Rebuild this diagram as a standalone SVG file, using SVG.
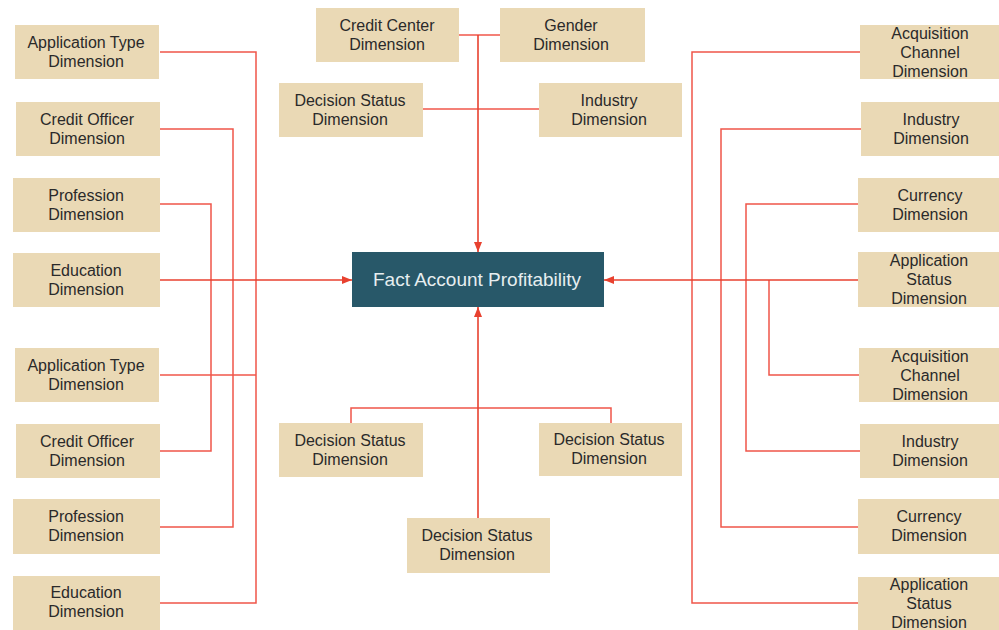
<svg xmlns="http://www.w3.org/2000/svg" width="999" height="630" viewBox="0 0 999 630">
  <defs>
    <style>
      .dim rect { fill: #ead9b5; }
      .dim text { font-family: "Liberation Sans", Arial, sans-serif; font-size: 16px; fill: #2a2a2a; text-anchor: middle; }
      .fact rect { fill: #285869; }
      .fact text { font-family: "Liberation Sans", Arial, sans-serif; font-size: 19px; fill: #e6eef0; text-anchor: middle; }
      .link { fill: none; stroke: #f0564a; stroke-width: 1.5; }
      .main { fill: none; stroke: #e8412f; stroke-width: 1.6; }
    </style>
    <marker id="arrow" viewBox="0 0 10 10" refX="10" refY="5" markerWidth="10" markerHeight="10" markerUnits="userSpaceOnUse" orient="auto">
      <path d="M0,1 L10,5 L0,9 Z" fill="#e8412f"/>
    </marker>
  </defs>
  <rect width="999" height="630" fill="#ffffff"/>

  <!-- connectors -->
  <g id="connectors">
    <!-- left side -->
    <polyline class="link" points="160,52 256,52 256,603 160,603"/>
    <polyline class="link" points="160,129 233,129 233,527 160,527"/>
    <polyline class="link" points="160,204 211,204 211,451 160,451"/>
    <polyline class="link" points="160,375 256,375"/>
    <line class="main" x1="160" y1="280" x2="352" y2="280" marker-end="url(#arrow)"/>
    <!-- top -->
    <line class="link" x1="459" y1="35" x2="500" y2="35"/>
    <line class="link" x1="423" y1="109" x2="539" y2="109"/>
    <line class="main" x1="478" y1="35" x2="478" y2="252" marker-end="url(#arrow)"/>
    <!-- bottom -->
    <polyline class="link" points="351,423 351,408 611,408 611,423"/>
    <line class="main" x1="478" y1="518" x2="478" y2="307" marker-end="url(#arrow)"/>
    <!-- right side -->
    <polyline class="link" points="860,52 692,52 692,603 858,603"/>
    <polyline class="link" points="861,129 721,129 721,527 858,527"/>
    <polyline class="link" points="858,204 746,204 746,451 860,451"/>
    <polyline class="link" points="859,375 769,375 769,280"/>
    <line class="main" x1="858" y1="280" x2="604" y2="280" marker-end="url(#arrow)"/>
  </g>

  <!-- central fact table -->
  <g id="fact-account-profitability" class="fact">
    <rect x="352" y="252" width="252" height="55"/>
    <text x="477" y="286">Fact Account Profitability</text>
  </g>

  <!-- left column -->
  <g id="left-application-type-1" class="dim">
    <rect x="15" y="25" width="144" height="54"/>
    <text x="86" y="48">Application Type</text>
    <text x="86" y="67">Dimension</text>
  </g>
  <g id="left-credit-officer-1" class="dim">
    <rect x="16" y="102" width="144" height="54"/>
    <text x="87" y="125">Credit Officer</text>
    <text x="87" y="144">Dimension</text>
  </g>
  <g id="left-profession-1" class="dim">
    <rect x="13" y="178" width="147" height="54"/>
    <text x="86" y="201">Profession</text>
    <text x="86" y="220">Dimension</text>
  </g>
  <g id="left-education-1" class="dim">
    <rect x="13" y="253" width="147" height="54"/>
    <text x="86" y="276">Education</text>
    <text x="86" y="295">Dimension</text>
  </g>
  <g id="left-application-type-2" class="dim">
    <rect x="15" y="348" width="144" height="54"/>
    <text x="86" y="371">Application Type</text>
    <text x="86" y="390">Dimension</text>
  </g>
  <g id="left-credit-officer-2" class="dim">
    <rect x="16" y="424" width="144" height="54"/>
    <text x="87" y="447">Credit Officer</text>
    <text x="87" y="466">Dimension</text>
  </g>
  <g id="left-profession-2" class="dim">
    <rect x="13" y="499" width="147" height="55"/>
    <text x="86" y="522">Profession</text>
    <text x="86" y="541">Dimension</text>
  </g>
  <g id="left-education-2" class="dim">
    <rect x="13" y="576" width="147" height="54"/>
    <text x="86" y="598">Education</text>
    <text x="86" y="617">Dimension</text>
  </g>

  <!-- top group -->
  <g id="top-credit-center" class="dim">
    <rect x="316" y="8" width="143" height="54"/>
    <text x="387" y="31">Credit Center</text>
    <text x="387" y="50">Dimension</text>
  </g>
  <g id="top-gender" class="dim">
    <rect x="500" y="8" width="145" height="54"/>
    <text x="571" y="31">Gender</text>
    <text x="571" y="50">Dimension</text>
  </g>
  <g id="top-decision-status" class="dim">
    <rect x="279" y="83" width="144" height="54"/>
    <text x="350" y="106">Decision Status</text>
    <text x="350" y="125">Dimension</text>
  </g>
  <g id="top-industry" class="dim">
    <rect x="539" y="83" width="143" height="54"/>
    <text x="609" y="106">Industry</text>
    <text x="609" y="125">Dimension</text>
  </g>

  <!-- bottom group -->
  <g id="bottom-decision-status-left" class="dim">
    <rect x="279" y="423" width="144" height="54"/>
    <text x="350" y="446">Decision Status</text>
    <text x="350" y="465">Dimension</text>
  </g>
  <g id="bottom-decision-status-right" class="dim">
    <rect x="539" y="423" width="143" height="53"/>
    <text x="609" y="445">Decision Status</text>
    <text x="609" y="464">Dimension</text>
  </g>
  <g id="bottom-decision-status-center" class="dim">
    <rect x="407" y="518" width="143" height="55"/>
    <text x="477" y="541">Decision Status</text>
    <text x="477" y="560">Dimension</text>
  </g>

  <!-- right column -->
  <g id="right-acquisition-channel-1" class="dim">
    <rect x="860" y="25" width="144" height="54"/>
    <text x="930" y="39">Acquisition</text>
    <text x="930" y="58">Channel</text>
    <text x="930" y="77">Dimension</text>
  </g>
  <g id="right-industry-1" class="dim">
    <rect x="861" y="102" width="144" height="54"/>
    <text x="931" y="125">Industry</text>
    <text x="931" y="144">Dimension</text>
  </g>
  <g id="right-currency-1" class="dim">
    <rect x="858" y="178" width="146" height="54"/>
    <text x="930" y="201">Currency</text>
    <text x="930" y="220">Dimension</text>
  </g>
  <g id="right-application-status-1" class="dim">
    <rect x="858" y="252" width="146" height="55"/>
    <text x="929" y="266">Application</text>
    <text x="929" y="285">Status</text>
    <text x="929" y="304">Dimension</text>
  </g>
  <g id="right-acquisition-channel-2" class="dim">
    <rect x="859" y="348" width="145" height="54"/>
    <text x="930" y="362">Acquisition</text>
    <text x="930" y="381">Channel</text>
    <text x="930" y="400">Dimension</text>
  </g>
  <g id="right-industry-2" class="dim">
    <rect x="860" y="424" width="144" height="54"/>
    <text x="930" y="447">Industry</text>
    <text x="930" y="466">Dimension</text>
  </g>
  <g id="right-currency-2" class="dim">
    <rect x="858" y="499" width="146" height="55"/>
    <text x="929" y="522">Currency</text>
    <text x="929" y="541">Dimension</text>
  </g>
  <g id="right-application-status-2" class="dim">
    <rect x="858" y="577" width="146" height="53"/>
    <text x="929" y="590">Application</text>
    <text x="929" y="609">Status</text>
    <text x="929" y="628">Dimension</text>
  </g>
</svg>
